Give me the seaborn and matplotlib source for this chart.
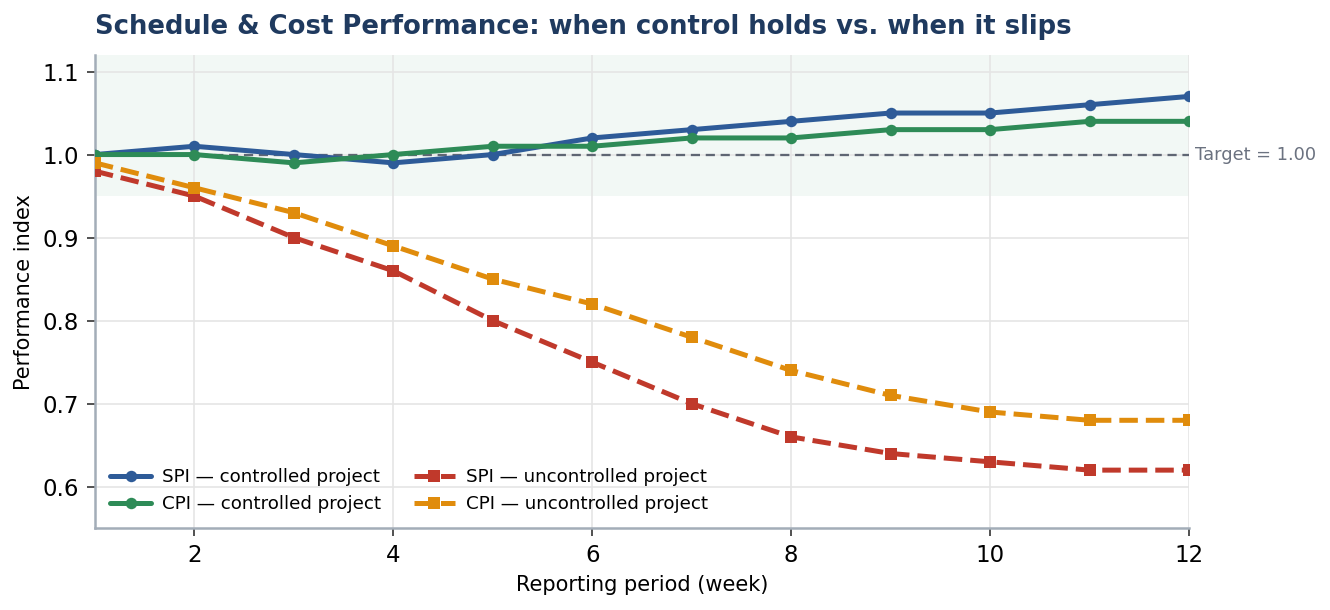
import numpy as np
import pandas as pd
import matplotlib
matplotlib.use("Agg")
import matplotlib.pyplot as plt
import seaborn as sns

# -----------------------------
# Data
# -----------------------------
weeks = list(range(1, 13))
spi_controlled = [1.00, 1.01, 1.00, 0.99, 1.00, 1.02, 1.03, 1.04, 1.05, 1.05, 1.06, 1.07]
cpi_controlled = [1.00, 1.00, 0.99, 1.00, 1.01, 1.01, 1.02, 1.02, 1.03, 1.03, 1.04, 1.04]
spi_uncontrolled = [0.98, 0.95, 0.90, 0.86, 0.80, 0.75, 0.70, 0.66, 0.64, 0.63, 0.62, 0.62]
cpi_uncontrolled = [0.99, 0.96, 0.93, 0.89, 0.85, 0.82, 0.78, 0.74, 0.71, 0.69, 0.68, 0.68]
target = 1.00

series = [
    ("SPI — controlled project", spi_controlled, "#2e5b98", "o", "-"),
    ("CPI — controlled project", cpi_controlled, "#2e8b57", "o", "-"),
    ("SPI — uncontrolled project", spi_uncontrolled, "#c0392b", "s", "--"),
    ("CPI — uncontrolled project", cpi_uncontrolled, "#e08c0c", "s", "--"),
]

# -----------------------------
# Plot
# -----------------------------
sns.set_style("white")
plt.rcParams.update({
    "text.color": "black",
    "axes.labelcolor": "black",
    "xtick.color": "black",
    "ytick.color": "black",
})
fig, ax = plt.subplots(figsize=(1330 / 150, 610 / 150), dpi=150)
fig.subplots_adjust(left=0.0714, right=0.894, top=0.91, bottom=0.134)

ax.axhspan(0.95, 1.12, color="#2e8b57", alpha=0.06, lw=0, zorder=0)
ax.grid(True, color="#e5e5e5", lw=0.8, zorder=0)
ax.set_axisbelow(True)

ax.axhline(target, color="#5f6673", lw=1.1, ls=(0, (4, 2.5)), zorder=1)
ax.text(12.06, target, "Target = 1.00", color="#6b7280", fontsize=8.5,
        va="center", ha="left", clip_on=False)

for label, vals, color, marker, ls in series:
    df = pd.DataFrame({"week": weeks, "value": vals})
    sns.lineplot(data=df, x="week", y="value", ax=ax, color=color, lw=2.4,
                 linestyle=ls, marker=marker, markersize=5.5,
                 markeredgewidth=0, label=label, zorder=3)

ax.set_xlim(1, 12)
ax.set_ylim(0.55, 1.12)
ax.set_xticks([2, 4, 6, 8, 10, 12])
ax.set_yticks([0.6, 0.7, 0.8, 0.9, 1.0, 1.1])
ax.tick_params(axis="both", labelsize=11, length=4, color="#333333",
               bottom=True, left=True)

ax.set_xlabel("Reporting period (week)", fontsize=10)
ax.set_ylabel("Performance index", fontsize=10)
ax.set_title("Schedule & Cost Performance: when control holds vs. when it slips",
             fontsize=12.4, fontweight="bold", color="#1f3a5f", loc="left", pad=10)

for side in ["top", "right"]:
    ax.spines[side].set_visible(False)
for side in ["left", "bottom"]:
    ax.spines[side].set_color("#a3adb8")
    ax.spines[side].set_linewidth(1.2)

ax.legend(loc="lower left", ncol=2, fontsize=8.75, frameon=False,
          handlelength=2.25, handletextpad=0.6, columnspacing=1.8,
          borderaxespad=0.43)

plt.savefig("out.png", dpi=150)
plt.close()
